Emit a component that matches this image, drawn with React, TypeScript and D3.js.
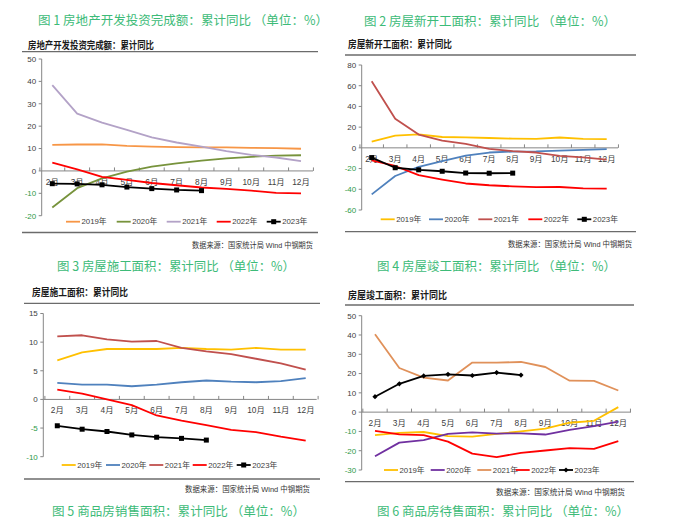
import React from 'react';
import * as d3 from 'd3';

const months = ['2月', '3月', '4月', '5月', '6月', '7月', '8月', '9月', '10月', '11月', '12月'];
const yearLabels = ['2019年', '2020年', '2021年', '2022年', '2023年'];

// 图1 房地产开发投资完成额：累计同比
const invest2019 = [11.6, 11.8, 11.9, 11.2, 10.9, 10.6, 10.5, 10.5, 10.3, 10.2, 9.9];
const invest2020 = [-16.3, -7.7, -3.3, -0.3, 1.9, 3.4, 4.6, 5.6, 6.3, 6.8, 7.0];
const invest2021 = [38.3, 25.6, 21.6, 18.3, 15.0, 12.7, 10.9, 8.8, 7.2, 6.0, 4.4];
const invest2022 = [3.7, 0.7, -2.7, -4.0, -5.4, -6.4, -7.4, -8.0, -8.8, -9.8, -10.0];
const invest2023 = [-5.7, -5.8, -6.2, -7.2, -7.9, -8.5, -8.8];

// 图2 房屋新开工面积：累计同比
const newStart2019 = [6.0, 11.9, 13.1, 10.5, 10.1, 9.5, 8.9, 8.6, 10.0, 8.6, 8.5];
const newStart2020 = [-44.9, -27.2, -18.4, -12.8, -7.6, -4.5, -3.6, -3.4, -2.6, -2.0, -1.2];
const newStart2021 = [64.3, 28.2, 12.8, 6.9, 3.8, -0.9, -3.2, -4.5, -7.7, -9.1, -11.4];
const newStart2022 = [-12.2, -17.5, -26.3, -30.6, -34.4, -36.1, -37.2, -38.0, -37.8, -39.1, -39.4];
const newStart2023 = [-9.4, -19.2, -21.2, -22.6, -24.3, -24.5, -24.4];

// 图3 房屋施工面积：累计同比
const construct2019 = [6.8, 8.2, 8.8, 8.8, 8.8, 9.0, 8.8, 8.7, 9.0, 8.7, 8.7];
const construct2020 = [2.9, 2.6, 2.6, 2.3, 2.6, 3.0, 3.3, 3.1, 3.0, 3.2, 3.7];
const construct2021 = [11.0, 11.2, 10.5, 10.1, 10.2, 9.0, 8.4, 7.9, 7.1, 6.3, 5.2];
const construct2022 = [1.7, 1.0, 0.0, -1.0, -2.8, -3.7, -4.5, -5.3, -5.7, -6.5, -7.2];
const construct2023 = [-4.6, -5.2, -5.6, -6.2, -6.6, -6.8, -7.1];

// 图4 房屋竣工面积：累计同比
const complete2019 = [-11.9, -10.8, -10.3, -12.4, -12.7, -11.3, -10.0, -8.6, -5.5, -4.5, 2.6];
const complete2020 = [-22.9, -15.8, -14.5, -11.3, -10.5, -11.1, -11.0, -11.6, -9.2, -7.3, -4.9];
const complete2021 = [40.4, 22.9, 17.9, 16.4, 25.7, 25.7, 26.0, 23.4, 16.3, 16.2, 11.2];
const complete2022 = [-9.7, -11.5, -11.9, -15.3, -21.5, -23.3, -21.1, -19.9, -18.7, -19.0, -15.0];
const complete2023 = [8.0, 14.7, 18.8, 19.6, 19.0, 20.5, 19.2];

const ticks1 = [-20, -10, 0, 10, 20, 30, 40, 50];
const ticks2 = [-60, -40, -20, 0, 20, 40, 60, 80];
const ticks3 = [-10, -5, 0, 5, 10, 15];
const ticks4 = [-30, -20, -10, 0, 10, 20, 30, 40, 50];

const captions = [
  { text: '图 1  房地产开发投资完成额：累计同比  （单位：%）', x: 38, y: 25, w: 290 },
  { text: '图 2  房屋新开工面积：累计同比  （单位：%）', x: 364, y: 25.5, w: 252 },
  { text: '图 3  房屋施工面积：累计同比  （单位：%）', x: 57, y: 270.5, w: 238 },
  { text: '图 4  房屋竣工面积：累计同比  （单位：%）', x: 377, y: 270.5, w: 239 },
  { text: '图 5  商品房销售面积：累计同比  （单位：%）', x: 52, y: 515.5, w: 253 },
  { text: '图 6  商品房待售面积：累计同比  （单位：%）', x: 377, y: 515.5, w: 252 },
];

const SOURCE = '数据来源：国家统计局 Wind 中钢期货';
const FONT = "'Liberation Sans', 'Noto Sans CJK SC', sans-serif";
const CJK = "'Noto Sans CJK SC', sans-serif";

type PanelCfg = {
  title: string; titleX: number; titleY: number; titleW: number;
  ruleTopY: number; ruleX0: number; ruleX1: number; ruleBottomY: number;
  yAxisX: number; yDomain: [number, number]; yRange: [number, number]; ticks: number[];
  xStart: number; xEnd: number; axisRight: number; xLabelY: number;
  legendY: number; legendXs: number[];
  sourceRight: number; sourceY: number; sourceW: number;
  series: number[][]; colors: string[]; marker: 'square' | 'diamond';
};

const panels: PanelCfg[] = [
  {
    title: '房地产开发投资完成额：累计同比', titleX: 28, titleY: 48.5, titleW: 126,
    ruleTopY: 51.7, ruleX0: 22, ruleX1: 318, ruleBottomY: 232.5,
    yAxisX: 41.7, yDomain: [-20, 50], yRange: [215.7, 59], ticks: ticks1,
    xStart: 52.3, xEnd: 301, axisRight: 313, xLabelY: 185,
    legendY: 221.7, legendXs: [66, 116.7, 166.7, 216.7, 266.7],
    sourceRight: 313, sourceY: 248, sourceW: 121,
    series: [invest2019, invest2020, invest2021, invest2022, invest2023],
    colors: ['#F79646', '#77933C', '#B3A2C7', '#FF0000', '#000000'], marker: 'square',
  },
  {
    title: '房屋新开工面积：累计同比', titleX: 348, titleY: 47.5, titleW: 104,
    ruleTopY: 55, ruleX0: 345, ruleX1: 636, ruleBottomY: 231.7,
    yAxisX: 361.7, yDomain: [-60, 80], yRange: [210, 65], ticks: ticks2,
    xStart: 371.7, xEnd: 606.7, axisRight: 618, xLabelY: 162,
    legendY: 219.3, legendXs: [380.7, 429, 478.3, 528.3, 577.3],
    sourceRight: 632, sourceY: 247, sourceW: 124,
    series: [newStart2019, newStart2020, newStart2021, newStart2022, newStart2023],
    colors: ['#FFC000', '#4F81BD', '#C0504D', '#FF0000', '#000000'], marker: 'square',
  },
  {
    title: '房屋施工面积：累计同比', titleX: 32, titleY: 295.8, titleW: 96,
    ruleTopY: 303.3, ruleX0: 24, ruleX1: 320, ruleBottomY: 479,
    yAxisX: 43.3, yDomain: [-10, 15], yRange: [456.7, 313.5], ticks: ticks3,
    xStart: 57.3, xEnd: 305.7, axisRight: 316.7, xLabelY: 413,
    legendY: 465, legendXs: [61.7, 106, 149.3, 192.7, 236.7],
    sourceRight: 310, sourceY: 492, sourceW: 125,
    series: [construct2019, construct2020, construct2021, construct2022, construct2023],
    colors: ['#FFC000', '#4F81BD', '#C0504D', '#FF0000', '#000000'], marker: 'square',
  },
  {
    title: '房屋竣工面积：累计同比', titleX: 348, titleY: 298.5, titleW: 99,
    ruleTopY: 305, ruleX0: 345, ruleX1: 634, ruleBottomY: 481.7,
    yAxisX: 361.7, yDomain: [-30, 50], yRange: [470, 315.7], ticks: ticks4,
    xStart: 375, xEnd: 618.3, axisRight: 631, xLabelY: 425.5,
    legendY: 470, legendXs: [384, 430.7, 477.3, 515.7, 559],
    sourceRight: 625, sourceY: 495, sourceW: 129,
    series: [complete2019, complete2020, complete2021, complete2022, complete2023],
    colors: ['#FFC000', '#7030A0', '#E0915A', '#FF0000', '#000000'], marker: 'diamond',
  },
];

function Marker({ cx, cy, kind }: { cx: number; cy: number; kind: 'square' | 'diamond' }) {
  if (kind === 'square') {
    return <rect x={cx - 2.5} y={cy - 2.5} width={5} height={5} fill="#000" />;
  }
  const s = 2.6;
  return <path d={`M${cx},${cy - s}L${cx + s},${cy}L${cx},${cy + s}L${cx - s},${cy}Z`} fill="#000" />;
}

function Panel({ c }: { c: PanelCfg }) {
  const x = d3.scalePoint<string>().domain(months).range([c.xStart, c.xEnd]);
  const y = d3.scaleLinear().domain(c.yDomain).range(c.yRange);
  const step = x.step();
  const y0 = y(0);
  const line = d3.line<number>().x((_, i) => x(months[i]) as number).y((d) => y(d));
  const bounds = d3.range(months.length + 1).map((i) => c.xStart - step / 2 + i * step);
  return (
    <g>
      <line x1={c.ruleX0} x2={c.ruleX1} y1={c.ruleTopY} y2={c.ruleTopY} stroke="#6b6b6b" strokeWidth={1.3} />
      <text x={c.titleX} y={c.titleY} fontFamily={CJK} fontWeight="bold" fontSize={10}
        textLength={c.titleW} lengthAdjust="spacingAndGlyphs" fill="#1a1a1a">{c.title}</text>
      {/* y axis */}
      <line x1={c.yAxisX} x2={c.yAxisX} y1={c.yRange[0]} y2={c.yRange[1]} stroke="#868686" strokeWidth={1} />
      {c.ticks.map((t) => (
        <g key={t}>
          <line x1={c.yAxisX - 3} x2={c.yAxisX} y1={y(t)} y2={y(t)} stroke="#868686" strokeWidth={1} />
          <text x={c.yAxisX - 5.5} y={y(t)} dy="0.35em" textAnchor="end" fontFamily={FONT} fontSize={8}
            fill={t < 0 ? '#2E9A48' : '#404040'}>{t}</text>
        </g>
      ))}
      {/* x axis */}
      <line x1={c.yAxisX} x2={c.axisRight} y1={y0} y2={y0} stroke="#868686" strokeWidth={1} />
      {bounds.map((bx, i) => (
        <line key={i} x1={bx} x2={bx} y1={y0} y2={y0 - 3.5} stroke="#868686" strokeWidth={1} />
      ))}
      {months.map((m) => (
        <text key={m} x={x(m)} y={c.xLabelY} textAnchor="middle" fontFamily={FONT} fontSize={8.3} fill="#404040">{m}</text>
      ))}
      {/* series */}
      {c.series.map((s, k) => (
        <path key={k} d={line(s) || ''} fill="none" stroke={c.colors[k]} strokeWidth={k === 4 ? 1.8 : 1.8}
          strokeLinejoin="round" />
      ))}
      {c.series[4].map((v, i) => (
        <Marker key={i} cx={x(months[i]) as number} cy={y(v)} kind={c.marker} />
      ))}
      {/* legend */}
      {yearLabels.map((lab, k) => (
        <g key={lab}>
          <line x1={c.legendXs[k]} x2={c.legendXs[k] + 14} y1={c.legendY} y2={c.legendY}
            stroke={c.colors[k]} strokeWidth={1.8} />
          {k === 4 && <Marker cx={c.legendXs[k] + 7} cy={c.legendY} kind={c.marker} />}
          <text x={c.legendXs[k] + 15.5} y={c.legendY} dy="0.35em" fontFamily={FONT} fontSize={7.8} fill="#404040">{lab}</text>
        </g>
      ))}
      <line x1={c.ruleX0} x2={c.ruleX1} y1={c.ruleBottomY} y2={c.ruleBottomY} stroke="#6b6b6b" strokeWidth={1.3} />
      <text x={c.sourceRight} y={c.sourceY} textAnchor="end" fontFamily={FONT} fontSize={8}
        textLength={c.sourceW} lengthAdjust="spacingAndGlyphs" fill="#333">{SOURCE}</text>
    </g>
  );
}

export default function App() {
  return (
    <svg width={698} height={529} style={{ position: 'absolute', left: 0, top: 0, background: '#fff' }}>
      <rect width={698} height={529} fill="#fff" />
      {captions.map((cp) => (
        <text key={cp.text} x={cp.x} y={cp.y} fontFamily={CJK} fontSize={12.5} fill="#3DBB78"
          textLength={cp.w} lengthAdjust="spacingAndGlyphs">{cp.text}</text>
      ))}
      {panels.map((p, i) => <Panel key={i} c={p} />)}
    </svg>
  );
}
